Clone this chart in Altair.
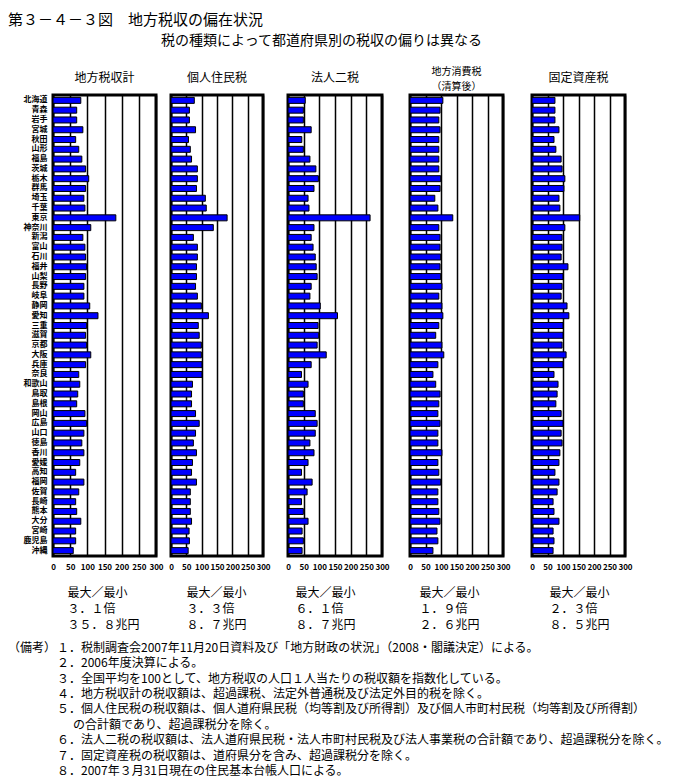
import altair as alt
import pandas as pd

FONT = "Noto Sans CJK JP"

prefs = ["北海道", "青森", "岩手", "宮城", "秋田", "山形", "福島", "茨城", "栃木", "群馬",
         "埼玉", "千葉", "東京", "神奈川", "新潟", "富山", "石川", "福井", "山梨", "長野",
         "岐阜", "静岡", "愛知", "三重", "滋賀", "京都", "大阪", "兵庫", "奈良", "和歌山",
         "鳥取", "島根", "岡山", "広島", "山口", "徳島", "香川", "愛媛", "高知", "福岡",
         "佐賀", "長崎", "熊本", "大分", "宮崎", "鹿児島", "沖縄"]

total = [81, 69, 69, 87, 66, 75, 84, 95, 104, 95, 90, 93, 183, 110, 87, 93, 95, 98, 95, 90,
         90, 107, 131, 98, 95, 98, 110, 95, 75, 78, 72, 69, 93, 98, 90, 84, 90, 78, 66, 90,
         75, 66, 69, 81, 66, 66, 59]
personal = [76, 60, 60, 80, 57, 63, 67, 86, 86, 83, 112, 115, 183, 138, 73, 86, 86, 83, 83, 80,
            86, 99, 122, 89, 92, 99, 99, 101, 101, 70, 67, 67, 80, 92, 80, 73, 83, 70, 67, 83,
            63, 63, 63, 67, 59, 60, 56]
corporate = [55, 49, 49, 74, 44, 49, 70, 89, 97, 83, 64, 67, 262, 83, 74, 80, 87, 90, 93, 74,
             70, 103, 158, 96, 98, 93, 122, 74, 43, 64, 49, 49, 87, 93, 87, 70, 83, 64, 43, 77,
             61, 43, 49, 64, 45, 49, 45]
consumption = [106, 97, 93, 97, 93, 93, 93, 93, 99, 97, 80, 90, 138, 93, 97, 97, 99, 97, 99, 103,
               93, 103, 106, 93, 83, 103, 109, 90, 74, 83, 97, 93, 90, 97, 90, 90, 103, 90, 93, 99,
               90, 90, 93, 97, 87, 90, 74]
property_tax = [74, 74, 74, 87, 71, 77, 94, 97, 106, 103, 87, 90, 154, 106, 97, 97, 94, 116, 100, 97,
                94, 113, 119, 100, 100, 97, 110, 100, 71, 84, 81, 77, 94, 100, 94, 97, 90, 87, 74, 87,
                81, 68, 71, 87, 68, 71, 68]

series = [total, personal, corporate, consumption, property_tax]
panel_titles = [["地方税収計"], ["個人住民税"], ["法人二税"], ["地方消費税", "（清算後）"], ["固定資産税"]]
ratio_head = "最大／最小"
ratios = ["３．１倍", "３．３倍", "６．１倍", "１．９倍", "２．３倍"]
amounts = ["３５．８兆円", "８．７兆円", "８．７兆円", "２．６兆円", "８．５兆円"]
tick_values = [0, 50, 100, 150, 200, 250, 300]

main_title = "第３－４－３図　地方税収の偏在状況"
subtitle = "税の種類によって都道府県別の税収の偏りは異なる"
notes_label = "（備考）"
notes = [
    "１．税制調査会2007年11月20日資料及び「地方財政の状況」（2008・閣議決定）による。",
    "２．2006年度決算による。",
    "３．全国平均を100として、地方税収の人口１人当たりの税収額を指数化している。",
    "４．地方税収計の税収額は、超過課税、法定外普通税及び法定外目的税を除く。",
    "５．個人住民税の税収額は、個人道府県民税（均等割及び所得割）及び個人市町村民税（均等割及び所得割）",
    "の合計額であり、超過課税分を除く。",
    "６．法人二税の税収額は、法人道府県民税・法人市町村民税及び法人事業税の合計額であり、超過課税分を除く。",
    "７．固定資産税の税収額は、道府県分を含み、超過課税分を除く。",
    "８．2007年３月31日現在の住民基本台帳人口による。",
]
continuation = [False, False, False, False, False, True, False, False, False]

widths = [103, 92, 94, 93, 93]
yextent = [42, 4, 14, 17, 18]
stat_x = [14, 15, 7, 9, 17]
title_offset = [10, 10, 10, 3, 10]
title_size = [12, 12, 12, 10, 12]

panels = []
for i, vals in enumerate(series):
    df = pd.DataFrame({"pref": prefs, "value": vals})
    yaxis = alt.Axis(title=None, labels=(i == 0), ticks=False, domain=False,
                     labelFont=FONT, labelFontSize=8, labelFontWeight="bold",
                     labelColor="black", labelPadding=6,
                     minExtent=yextent[i], maxExtent=yextent[i])
    xaxis = alt.Axis(values=tick_values, format="d", grid=True, gridColor="black", gridWidth=1.5,
                     ticks=False, domain=False, labelFlush=False,
                     labelFont=FONT, labelFontSize=8, labelFontWeight="bold",
                     labelColor="black", labelPadding=7,
                     title=[ratio_head, ratios[i], amounts[i]],
                     titleFont=FONT, titleFontSize=12, titleFontWeight="normal",
                     titleColor="black", titleAnchor="start", titleAlign="left",
                     titleBaseline="top", titleX=stat_x[i], titleY=31, titleLineHeight=16)
    c = alt.Chart(df).mark_bar(color="#0000FF", stroke="black", strokeWidth=1, size=6).encode(
        x=alt.X("value:Q", scale=alt.Scale(domain=[0, 300], nice=False, zero=True), axis=xaxis),
        y=alt.Y("pref:N", sort=prefs, axis=yaxis,
                scale=alt.Scale(paddingInner=0, paddingOuter=0.05)),
    ).properties(
        width=widths[i], height=461,
        title=alt.TitleParams(text=panel_titles[i], font=FONT, fontSize=title_size[i],
                              fontWeight="normal", color="black", offset=title_offset[i],
                              lineHeight=15),
        view=alt.ViewBackground(stroke="black", strokeWidth=3),
    )
    panels.append(c)

row = alt.hconcat(*panels, spacing=0).properties(
    title=alt.TitleParams(text=subtitle, anchor="middle", font=FONT, fontSize=14,
                          fontWeight="normal", color="black", offset=18)
)

notes_df = pd.DataFrame({
    "i": list(range(len(notes))),
    "text": notes,
    "cont": continuation,
    "label": [notes_label] + [""] * (len(notes) - 1),
})
nbase = alt.Chart(notes_df).encode(
    y=alt.Y("i:O", axis=None, scale=alt.Scale(paddingInner=0, paddingOuter=0))
)
txt = dict(align="left", baseline="middle", font=FONT, fontSize=12, color="black")
n_label = nbase.transform_filter("datum.i == 0").mark_text(**txt).encode(
    x=alt.value(-45), text="label:N")
n_main = nbase.transform_filter("!datum.cont").mark_text(**txt).encode(
    x=alt.value(4), text="text:N")
n_cont = nbase.transform_filter("datum.cont").mark_text(**txt).encode(
    x=alt.value(20), text="text:N")
notes_chart = alt.layer(n_label, n_main, n_cont).properties(
    width=500, height=9 * 15.4, view=alt.ViewBackground(stroke=None)
)

chart = alt.vconcat(row, notes_chart, spacing=8).properties(
    title=alt.TitleParams(text=main_title, anchor="start", font=FONT, fontSize=15,
                          fontWeight="normal", color="black", offset=6),
    padding={"left": 0, "top": 4, "right": 0, "bottom": 0},
).configure_view(stroke=None).configure(background="white")

chart.save("out.html", embed_options={"renderer": "svg", "actions": False})
